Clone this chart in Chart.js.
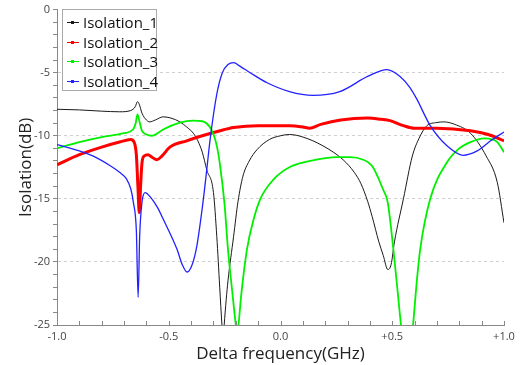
<!DOCTYPE html>
<html>
<head>
<meta charset="utf-8">
<script src="https://cdn.jsdelivr.net/npm/chart.js@4/dist/chart.umd.min.js"></script>
<style>
  body { margin: 0; background: #fff; }
  #wrap { position: relative; width: 520px; height: 365px; }
  #legend {
    position: absolute; left: 62px; top: 9px; width: 93px; height: 80px;
    border: 1px solid #aaa; background: #fff;
    font-family: "Open Sans", sans-serif; font-size: 15px; color: #111;
  }
  .row { position: absolute; left: 0; height: 20px; line-height: 20px; white-space: nowrap; }
  .sw { position: absolute; left: 4px; top: 10px; width: 12px; height: 1px; }
  .dot { position: absolute; left: 4px; top: -1px; width: 3px; height: 3px; }
  .lbl { position: absolute; left: 20px; top: 0; }
</style>
</head>
<body>
<div id="wrap">
  <canvas id="isoChart" width="520" height="365"></canvas>
  <div id="legend"></div>
</div>
<script>
// Data
const seriesNames = ["Isolation_1", "Isolation_2", "Isolation_3", "Isolation_4"];
const seriesColors = ["#1a1a1a", "#ff0000", "#00f000", "#2222ff"];
const seriesWidths = [1, 3, 1.8, 1.3];

const freq1 = [-1.0, -0.9, -0.8, -0.72, -0.67, -0.65, -0.64, -0.632, -0.62, -0.6, -0.585, -0.56, -0.525, -0.49, -0.45, -0.42, -0.39, -0.37, -0.35, -0.33, -0.3, -0.285, -0.272, -0.262, -0.257, -0.252, -0.243, -0.235, -0.21, -0.19, -0.168, -0.14, -0.105, -0.05, 0.0, 0.04, 0.1, 0.19, 0.28, 0.33, 0.36, 0.39, 0.41, 0.44, 0.46, 0.48, 0.495, 0.51, 0.55, 0.59, 0.62, 0.655, 0.7, 0.73, 0.78, 0.85, 0.92, 0.97, 1.0];
const iso1 = [-7.9, -7.95, -8.05, -8.1, -8.0, -7.7, -7.3, -7.5, -8.2, -8.75, -8.9, -8.75, -8.5, -8.6, -8.9, -9.3, -9.8, -10.4, -11.3, -12.7, -14.5, -18, -22, -25, -26.2, -25, -23, -21.5, -18, -15.2, -13.2, -12, -11.1, -10.3, -10.0, -9.9, -10.1, -10.8, -11.9, -12.9, -13.8, -15.2, -16.4, -18.4, -19.5, -20.6, -20.2, -18.4, -15.0, -11.6, -10.2, -9.2, -8.95, -8.9, -9.1, -9.8, -11.6, -13.7, -16.9];

const freq2 = [-1.0, -0.9, -0.8, -0.72, -0.67, -0.655, -0.645, -0.638, -0.632, -0.626, -0.62, -0.61, -0.593, -0.575, -0.553, -0.53, -0.495, -0.42, -0.35, -0.27, -0.21, -0.1, 0.04, 0.1, 0.13, 0.18, 0.27, 0.39, 0.45, 0.49, 0.55, 0.6, 0.7, 0.85, 0.93, 1.0];
const iso2 = [-12.3, -11.5, -10.9, -10.5, -10.3, -10.5, -11.5, -14, -16.1, -14, -12.2, -11.6, -11.5, -11.7, -11.9, -11.6, -10.9, -10.4, -10.0, -9.6, -9.35, -9.2, -9.2, -9.3, -9.4, -9.1, -8.75, -8.6, -8.7, -8.8, -9.2, -9.4, -9.4, -9.6, -9.9, -10.4];

const freq3 = [-1.0, -0.9, -0.8, -0.7, -0.66, -0.648, -0.64, -0.632, -0.62, -0.6, -0.575, -0.55, -0.525, -0.45, -0.39, -0.35, -0.31, -0.285, -0.27, -0.25, -0.235, -0.215, -0.2, -0.194, -0.188, -0.175, -0.15, -0.12, -0.09, -0.033, 0.04, 0.16, 0.25, 0.31, 0.37, 0.41, 0.46, 0.48, 0.505, 0.525, 0.539, 0.566, 0.593, 0.61, 0.625, 0.67, 0.745, 0.8, 0.85, 0.91, 0.95, 0.97, 1.0];
const iso3 = [-11.0, -10.5, -10.1, -9.8, -9.5, -9.0, -8.3, -8.8, -9.6, -9.9, -10.0, -9.8, -9.5, -8.95, -8.8, -8.85, -9.5, -10.8, -12.4, -15.5, -19, -22.5, -25, -25.8, -25, -22.5, -19, -16.6, -15, -13.5, -12.5, -11.9, -11.7, -11.7, -11.9, -12.4, -14.3, -15.3, -19, -22.5, -25, -29, -25, -21.5, -19, -15, -12.1, -11.0, -10.5, -10.2, -10.3, -10.5, -11.3];

const freq4 = [-1.0, -0.9, -0.84, -0.76, -0.72, -0.69, -0.67, -0.658, -0.645, -0.637, -0.63, -0.62, -0.606, -0.58, -0.55, -0.525, -0.463, -0.44, -0.418, -0.395, -0.374, -0.347, -0.33, -0.315, -0.284, -0.26, -0.235, -0.21, -0.18, -0.136, -0.06, 0.04, 0.145, 0.265, 0.39, 0.476, 0.535, 0.58, 0.61, 0.67, 0.745, 0.816, 0.88, 0.94, 1.0];
const iso4 = [-10.7, -11.2, -11.6, -12.4, -12.9, -13.4, -14.2, -15.3, -17.5, -22.8, -17.9, -15.3, -14.5, -14.9, -15.7, -16.6, -19, -20.2, -20.8, -20.2, -18.7, -15.3, -12.7, -10.3, -6.6, -5.0, -4.35, -4.2, -4.5, -5.0, -5.8, -6.5, -6.8, -6.5, -5.3, -4.75, -5.3, -6.2, -7.1, -9.2, -10.8, -11.55, -11.2, -10.4, -9.7];

const xTicks = [-1.0, -0.5, 0.0, 0.5, 1.0];
const yTicks = [0, -5, -10, -15, -20, -25];

const allFreq = [freq1, freq2, freq3, freq4];
const allIso = [iso1, iso2, iso3, iso4];

const datasets = seriesNames.map((name, i) => ({
  label: name,
  data: allFreq[i].map((f, j) => ({ x: f, y: allIso[i][j] })),
  borderColor: seriesColors[i],
  backgroundColor: seriesColors[i],
  borderWidth: seriesWidths[i],
  showLine: true,
  pointRadius: 0,
  cubicInterpolationMode: "monotone",
  order: seriesNames.length - i,
}));

// legend as html
const legend = document.getElementById("legend");
seriesNames.forEach((name, i) => {
  const row = document.createElement("div");
  row.className = "row";
  row.style.top = (2 + i * 19.6) + "px";
  row.innerHTML = '<span class="sw" style="background:' + seriesColors[i] + '"><span class="dot" style="background:' + seriesColors[i] + '"></span></span><span class="lbl">' + name + "</span>";
  legend.appendChild(row);
});

const near = (v, arr) => arr.some((t) => Math.abs(t - v) < 1e-6);

// bottom axis ticks point inward, drawn from the scale
const innerTicks = {
  id: "innerTicks",
  afterDraw(chart) {
    const xs = chart.scales.x, ys = chart.scales.y, ctx = chart.ctx;
    ctx.save();
    ctx.strokeStyle = "#888";
    ctx.lineWidth = 1;
    xs.ticks.forEach((t) => {
      const px = Math.round(xs.getPixelForValue(t.value)) + 0.5;
      ctx.beginPath();
      ctx.moveTo(px, ys.bottom);
      ctx.lineTo(px, ys.bottom - 4);
      ctx.stroke();
    });
    ctx.restore();
  },
};

const ctx = document.getElementById("isoChart").getContext("2d");
new Chart(ctx, {
  type: "scatter",
  data: { datasets },
  plugins: [innerTicks],
  options: {
    responsive: false,
    animation: false,
    layout: { padding: { top: 9, right: 16, left: 0, bottom: 0 } },
    plugins: { legend: { display: false }, tooltip: { enabled: false } },
    scales: {
      x: {
        type: "linear",
        min: -1,
        max: 1,
        afterFit: (s) => { s.height = 40; },
        ticks: {
          stepSize: 0.1,
          autoSkip: false,
          maxRotation: 0,
          padding: 5,
          color: "#444",
          font: { family: "Open Sans", size: 11 },
          callback: (v) => {
            if (!near(v, xTicks)) return "";
            const r = Math.round(v * 10) / 10;
            if (Math.abs(r) < 1e-9) return "0.0";
            return (r > 0 ? "+" : "") + r.toFixed(1);
          },
        },
        grid: { drawOnChartArea: false, drawTicks: false },
        border: { color: "#888" },
        title: {
          display: true,
          text: "Delta frequency(GHz)",
          color: "#222",
          font: { family: "Open Sans", size: 17 },
          padding: { top: 0, bottom: 1 },
        },
      },
      y: {
        min: -25,
        max: 0,
        afterFit: (s) => { s.width = 57; },
        ticks: {
          stepSize: 1,
          autoSkip: false,
          padding: 3,
          color: "#444",
          font: { family: "Open Sans", size: 11 },
          callback: (v) => (near(v, yTicks) ? String(Math.round(v)) : ""),
        },
        grid: {
          color: (c) => (c.tick && near(c.tick.value, yTicks) && c.tick.value !== 0 && c.tick.value !== -25 ? "#d0d0d0" : "rgba(0,0,0,0)"),
          tickColor: "#888",
          tickLength: 4,
          tickBorderDash: [],
        },
        border: { color: "#888", dash: [3, 3] },
        title: {
          display: true,
          text: "Isolation(dB)",
          color: "#222",
          font: { family: "Open Sans", size: 17 },
          padding: { top: 16, bottom: 0 },
        },
      },
    },
  },
});
</script>
</body>
</html>
